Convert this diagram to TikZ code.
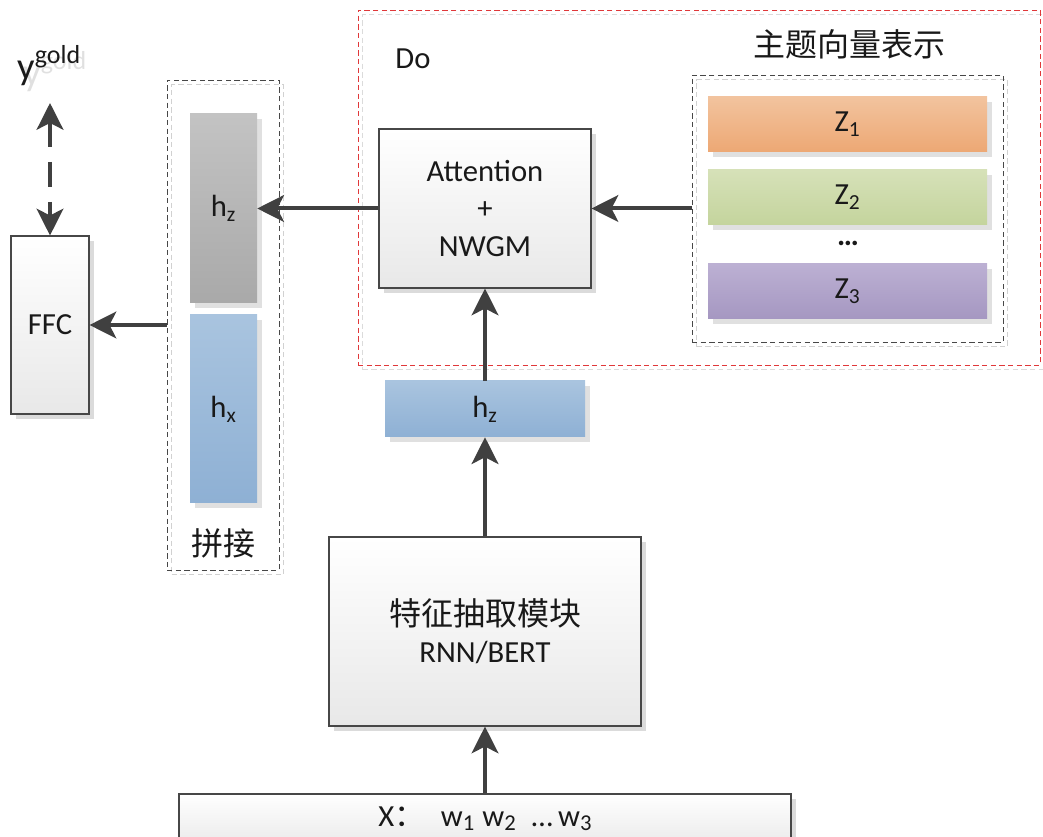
\documentclass[tikz,border=0pt]{standalone}
\usepackage{fontspec}
\setmainfont{Carlito}
\newfontfamily\cjk{Noto Sans CJK SC}
\usetikzlibrary{arrows.meta,shadows,fit}
\definecolor{arrowgray}{HTML}{404040}
\definecolor{hzgrayT}{HTML}{C3C3C3}
\definecolor{hzgrayB}{HTML}{A9A9A9}
\definecolor{blueT}{HTML}{A9C4DF}
\definecolor{blueB}{HTML}{8EB0D4}
\definecolor{orangeT}{HTML}{F2C39E}
\definecolor{orangeB}{HTML}{EDA874}
\definecolor{greenT}{HTML}{D6E1B8}
\definecolor{greenB}{HTML}{C4D49D}
\definecolor{purpleT}{HTML}{BCB0D3}
\definecolor{purpleB}{HTML}{A597C1}
\definecolor{redline}{HTML}{E0383A}
\newcommand{\cjktext}[1]{{\cjk\fontsize{24}{30}\selectfont #1}}
\newcommand{\lsub}[1]{\raisebox{-3.5pt}{\fontsize{17}{17}\selectfont #1}}
\begin{document}
\begin{tikzpicture}[x=0.75pt,y=-0.75pt,
  every node/.style={text=black!90, inner sep=0pt},
  font=\fontsize{23}{28}\selectfont,
  grbox/.style={draw=black!72, line width=0.8pt, top color=white, bottom color=black!9,
    drop shadow={shadow xshift=3.5pt, shadow yshift=-3.5pt, fill=black!14, opacity=1}},
  vecbar/.style 2 args={draw=none, top color=#1, bottom color=#2,
    drop shadow={shadow xshift=3.5pt, shadow yshift=-3.5pt, fill=black!12, opacity=1}},
  dbox/.style={draw=black!72, line width=0.7pt, dash pattern=on 4pt off 2.5pt,
    general shadow={shadow xshift=3.5pt, shadow yshift=-3.5pt, draw=black!18, dash pattern=on 4pt off 2.5pt}},
  rbox/.style={draw=redline, line width=0.7pt, dash pattern=on 4pt off 2.5pt,
    general shadow={shadow xshift=3.5pt, shadow yshift=-3.5pt, draw=black!14, dash pattern=on 4pt off 2.5pt}},
  arr/.style={draw=arrowgray, line width=3pt, -{Stealth[length=20pt,width=20pt,inset=5pt]}},
  darr/.style={draw=arrowgray, line width=3pt, dash pattern=on 19pt off 11pt,
    {Stealth[length=20pt,width=20pt,inset=5pt]}-{Stealth[length=20pt,width=20pt,inset=5pt]}}
]
\useasboundingbox (0,0) rectangle (1043,837);

% Do region
\node[rbox, fit={(358,10)(1040,365)}] (dobox) {};
\node (dolabel) at (413,59) {Do};

% topic vectors
\node (topictitle) at (849,44) {\cjktext{主题向量表示}};
\node[dbox, fit={(692,75)(1003,342)}] (topics) {};
\node[vecbar={orangeT}{orangeB}, minimum width=209.25pt, minimum height=41.25pt] (z1) at (847.5,124.5) {Z\textsubscript{1}};
\node[vecbar={greenT}{greenB}, minimum width=209.25pt, minimum height=41.25pt] (z2) at (847.5,197.5) {Z\textsubscript{2}};
\node (zdots) at (848,243) {\textbf{…}};
\node[vecbar={purpleT}{purpleB}, minimum width=209.25pt, minimum height=41.25pt] (z3) at (847.5,291.5) {Z\textsubscript{3}};

% attention
\node[grbox, minimum width=159pt, minimum height=119.25pt, align=center] (att) at (485,208.5) {Attention\\+\\NWGM};

% concat
\node[dbox, fit={(167,80)(279,570)}] (concat) {};
\node[vecbar={hzgrayT}{hzgrayB}, minimum width=50.25pt, minimum height=141.75pt] (hz) at (223.5,208.5) {h\textsubscript{z}};
\node[vecbar={blueT}{blueB}, minimum width=50.25pt, minimum height=141pt] (hx) at (223.5,409) {h\textsubscript{x}};
\node (concatlabel) at (223,543) {\cjktext{拼接}};

% FFC and y gold
\node[grbox, minimum width=58.5pt, minimum height=133.5pt] (ffc) at (50,325) {FFC};
\node[anchor=base west, text=black!12] (ygoldshadow) at (23,86)
  {\fontsize{29}{29}\selectfont y\raisebox{12.5pt}{\fontsize{19.5}{19.5}\selectfont gold}};
\node[anchor=base west] (ygold) at (17,80)
  {\fontsize{29}{29}\selectfont y\raisebox{12.5pt}{\fontsize{19.5}{19.5}\selectfont gold}};
\coordinate (ytop) at (50,103);

% lower chain
\node[vecbar={blueT}{blueB}, minimum width=150pt, minimum height=42pt] (hzs) at (485,409) {h\textsubscript{z}};
\node[grbox, minimum width=234pt, minimum height=141.75pt, align=center] (feat) at (485,631.5)
  {\cjktext{特征抽取模块}\\RNN/BERT};
\node[grbox, minimum width=459pt, minimum height=42pt] (inp) at (485,822) {};
\node[anchor=base] (inptext) at (485,826)
  {X{\cjk ：}\hspace{12pt}w\lsub{1}\hspace{6pt}w\lsub{2}\hspace{12pt}…\hspace{4pt}w\lsub{3}};

% connectors
\draw[arr] (topics.west) -- (att.east);
\draw[arr] (att.west) -- (hz.east);
\draw[arr] (concat.west) -- (ffc.east);
\draw[arr] (hzs.north) -- (att.south);
\draw[arr] (feat.north) -- (hzs.south);
\draw[arr] (inp.north) -- (feat.south);
\draw[darr] (ytop) -- (ffc.north);
\end{tikzpicture}
\end{document}
